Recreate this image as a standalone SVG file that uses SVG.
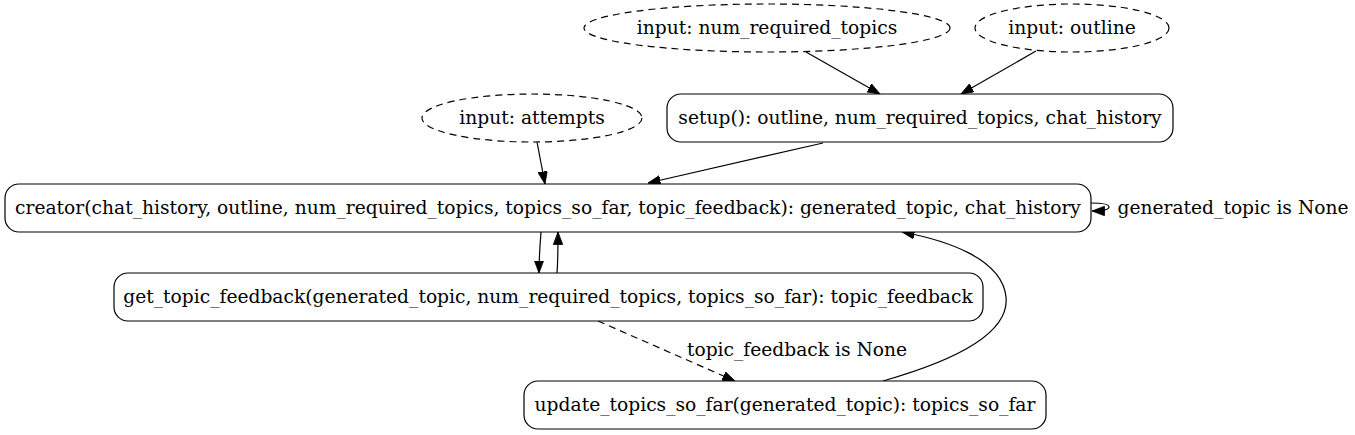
<svg xmlns="http://www.w3.org/2000/svg" width="1355" height="435" viewBox="0 0 1355 435">
<style>
text{font-family:"DejaVu Serif","Liberation Serif",serif;font-size:18.67px;fill:#000;text-anchor:middle}
.n{fill:#fff;stroke:#000;stroke-width:1.2}
.in{fill:none;stroke:#000;stroke-width:1.2;stroke-dasharray:7,5}
.e{fill:none;stroke:#000;stroke-width:1.2}
.d{stroke-dasharray:7,5}
</style>
<defs>
<marker id="ah" markerUnits="userSpaceOnUse" markerWidth="14" markerHeight="11" refX="12.5" refY="4.7" orient="auto" viewBox="0 0 14 11">
<path d="M0,0 L12.5,4.7 L0,9.4 z" fill="#000" stroke="#000" stroke-width="0.8"/>
</marker>
</defs>
<rect width="1355" height="435" fill="#fff"/>
<g id="connectors">
<path class="e" d="M806,52 L880,94" marker-end="url(#ah)"/>
<path class="e" d="M1036,51 L961,94" marker-end="url(#ah)"/>
<path class="e" d="M537,142 L545,184" marker-end="url(#ah)"/>
<path class="e" d="M823,143 L648,183" marker-end="url(#ah)"/>
<path class="e" d="M541,232 C540,245 539,258 539,273" marker-end="url(#ah)"/>
<path class="e" d="M557,273 C558,260 558,246 558,232" marker-end="url(#ah)"/>
<path class="e" d="M1091,203 C1101,203 1109,204 1109,207 C1109,210 1103,211 1092,211" marker-end="url(#ah)"/>
<text x="1233" y="214">generated_topic is None</text>
<path class="e d" d="M598,321 L735,381" marker-end="url(#ah)"/>
<text x="797" y="356">topic_feedback is None</text>
<path class="e" d="M883,381 C950,362 1010,335 1006,297 C1002,258 945,240 902,232" marker-end="url(#ah)"/>
</g>
<g id="input_num_required_topics">
<ellipse class="in" cx="767" cy="28" rx="183" ry="24"/>
<text x="767" y="34">input: num_required_topics</text>
</g>
<g id="input_outline">
<ellipse class="in" cx="1072" cy="28" rx="97" ry="24"/>
<text x="1072" y="34">input: outline</text>
</g>
<g id="input_attempts">
<ellipse class="in" cx="532" cy="118" rx="110" ry="24"/>
<text x="532" y="124">input: attempts</text>
</g>
<g id="setup">
<rect class="n" x="667" y="94" width="506" height="48" rx="14"/>
<text x="920" y="124">setup(): outline, num_required_topics, chat_history</text>
</g>
<g id="creator">
<rect class="n" x="5" y="184" width="1086" height="48" rx="14"/>
<text x="548" y="214">creator(chat_history, outline, num_required_topics, topics_so_far, topic_feedback): generated_topic, chat_history</text>
</g>
<g id="get_topic_feedback">
<rect class="n" x="114" y="273" width="869" height="48" rx="14"/>
<text x="548" y="303">get_topic_feedback(generated_topic, num_required_topics, topics_so_far): topic_feedback</text>
</g>
<g id="update_topics_so_far">
<rect class="n" x="524" y="381" width="522" height="48" rx="14"/>
<text x="785" y="411">update_topics_so_far(generated_topic): topics_so_far</text>
</g>
</svg>
